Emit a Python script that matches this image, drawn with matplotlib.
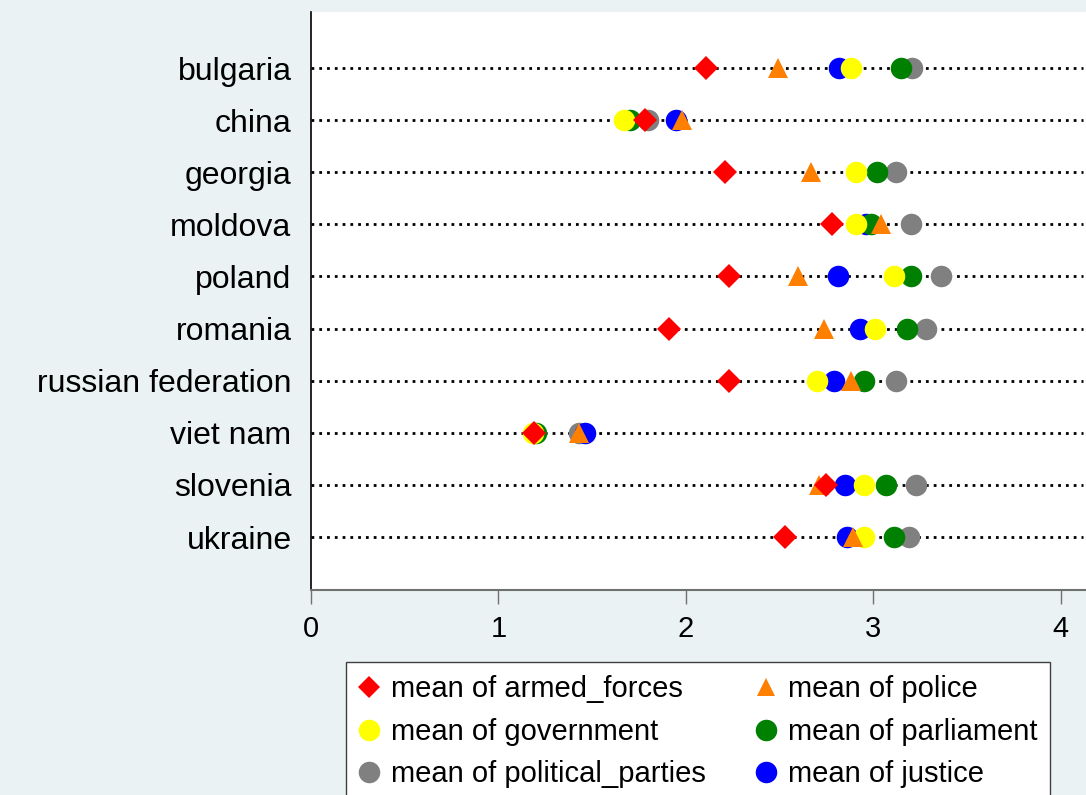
import numpy as np
import matplotlib
matplotlib.use("Agg")
import matplotlib.pyplot as plt

plt.rcParams["font.family"] = ["Liberation Sans", "DejaVu Sans"]

countries = ["bulgaria", "china", "georgia", "moldova", "poland", "romania",
             "russian federation", "viet nam", "slovenia", "ukraine"]

armed_forces = [2.11, 1.78, 2.21, 2.78, 2.23, 1.91, 2.23, 1.19, 2.75, 2.53]
police = [2.49, 1.98, 2.67, 3.04, 2.60, 2.74, 2.88, 1.43, 2.71, 2.89]
government = [2.88, 1.67, 2.91, 2.91, 3.11, 3.01, 2.70, 1.185, 2.95, 2.95]
parliament = [3.15, 1.70, 3.02, 2.99, 3.20, 3.18, 2.95, 1.20, 3.07, 3.11]
political_parties = [3.21, 1.80, 3.12, 3.20, 3.36, 3.28, 3.12, 1.43, 3.23, 3.19]
justice = [2.82, 1.95, np.nan, 2.96, 2.81, 2.93, 2.79, 1.46, 2.85, 2.86]

BG = "#EAF2F3"
FS = 21

fig = plt.figure(figsize=(10.86, 7.95), dpi=100, facecolor=BG)
ax = fig.add_axes([311 / 1086, 1 - 590 / 795, 1 - 311 / 1086, (590 - 12) / 795])
ax.set_facecolor("white")

y = np.arange(len(countries))

# dotted guide lines
ax.hlines(y, 0, 4.12, colors="black", linewidth=2.0,
          linestyles=(0, (1.0, 1.8)), zorder=1)

ms_c = 15.5
ms_d = 12
ms_t = 14
# drawn back to front
ax.plot(political_parties, y, "o", color="#808080", ms=ms_c, mew=0, zorder=2)
ax.plot(justice, y, "o", color="#0000FF", ms=ms_c, mew=0, zorder=3)
ax.plot(parliament, y, "o", color="#008000", ms=ms_c, mew=0, zorder=4)
ax.plot(government, y, "o", color="#FFFF00", ms=ms_c, mew=0, zorder=5)
ax.plot(police, y, "^", color="#FF7F00", ms=ms_t, mew=0, zorder=6)
ax.plot(armed_forces, y, "D", color="#FF0000", ms=ms_d, mew=0, zorder=7)

ax.set_xlim(0, 4.136)
ax.set_ylim(9 + 1.017, -1.075)
ax.set_yticks(y)
ax.set_yticklabels(countries, fontsize=23)
ax.tick_params(axis="y", length=0, pad=14)
ax.set_xticks([0, 1, 2, 3, 4])
ax.set_xticklabels(["0", "1", "2", "3", "4"], fontsize=FS)
ax.tick_params(axis="x", length=10, width=1, color="#707070", pad=8)

ax.spines["top"].set_visible(False)
ax.spines["right"].set_visible(False)
ax.spines["left"].set_color("black")
ax.spines["left"].set_linewidth(1.2)
ax.spines["bottom"].set_color("#707070")
ax.spines["bottom"].set_linewidth(1.5)

h_af, = ax.plot([], [], "D", color="#FF0000", ms=ms_d - 1, mew=0)
h_po, = ax.plot([], [], "^", color="#FF7F00", ms=ms_t - 1, mew=0)
h_go, = ax.plot([], [], "o", color="#FFFF00", ms=ms_c, mew=0)
h_pa, = ax.plot([], [], "o", color="#008000", ms=ms_c, mew=0)
h_pp, = ax.plot([], [], "o", color="#808080", ms=ms_c, mew=0)
h_ju, = ax.plot([], [], "o", color="#0000FF", ms=ms_c, mew=0)

leg = fig.legend([h_af, h_go, h_pp, h_po, h_pa, h_ju],
                 ["mean of armed_forces", "mean of government", "mean of political_parties",
                  "mean of police", "mean of parliament", "mean of justice"],
                 ncol=2, loc="upper left", bbox_to_anchor=(346 / 1086, 1 - 662 / 795),
                 fontsize=FS, frameon=True, fancybox=False, edgecolor="#404040",
                 facecolor="white", framealpha=1, borderpad=0.45, handlelength=0.7,
                 handletextpad=0.4, columnspacing=1.7, labelspacing=0.5,
                 borderaxespad=0)
leg.get_frame().set_linewidth(1.0)

fig.savefig("out.png", dpi=100, facecolor=BG)
